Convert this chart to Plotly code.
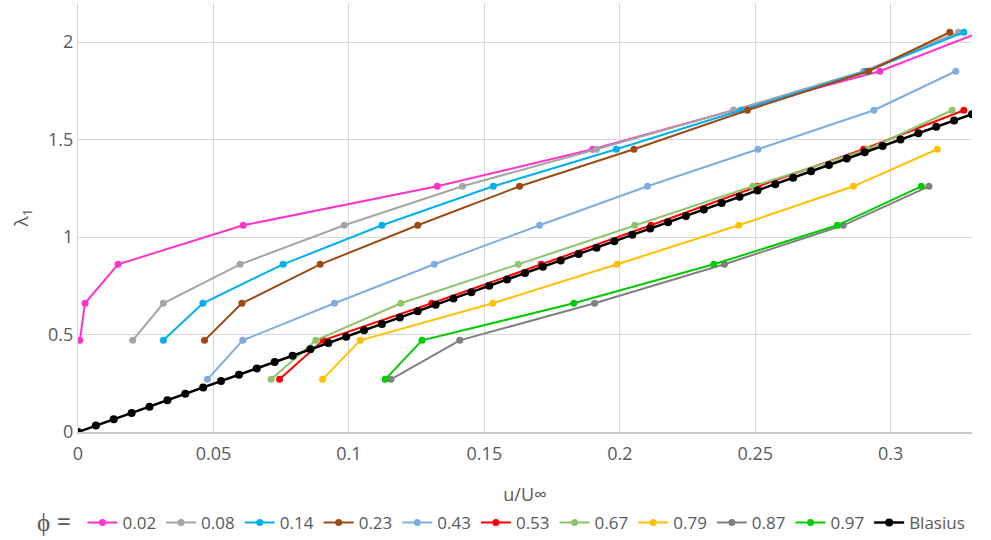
import plotly.graph_objects as go

# ---- data ----
names = ["0.02", "0.08", "0.14", "0.23", "0.43", "0.53", "0.67", "0.79", "0.87", "0.97", "Blasius"]
colors = ["#FF33CC", "#A5A5A5", "#00B0F0", "#9E4A13", "#7EAEE0", "#FF0000",
          "#8FC46A", "#FFC000", "#808080", "#00CC00", "#000000"]

x_002 = [0.0007, 0.0026, 0.0148, 0.0610, 0.1326, 0.1900, 0.2420, 0.2960, 0.3330]
y_002 = [0.47, 0.66, 0.86, 1.06, 1.26, 1.45, 1.65, 1.85, 2.05]

x_008 = [0.0202, 0.0315, 0.0598, 0.0983, 0.1419, 0.1914, 0.2420, 0.2900, 0.3250]
y_008 = [0.47, 0.66, 0.86, 1.06, 1.26, 1.45, 1.65, 1.85, 2.05]

x_014 = [0.0315, 0.0461, 0.0757, 0.1122, 0.1533, 0.1987, 0.2448, 0.2910, 0.3270]
y_014 = [0.47, 0.66, 0.86, 1.06, 1.26, 1.45, 1.65, 1.85, 2.05]

x_023 = [0.0467, 0.0605, 0.0894, 0.1254, 0.1630, 0.2052, 0.2471, 0.2918, 0.3218]
y_023 = [0.47, 0.66, 0.86, 1.06, 1.26, 1.45, 1.65, 1.85, 2.05]

x_043 = [0.0478, 0.0608, 0.0947, 0.1315, 0.1704, 0.2102, 0.2510, 0.2938, 0.3240]
y_043 = [0.27, 0.47, 0.66, 0.86, 1.06, 1.26, 1.45, 1.65, 1.85]

x_053 = [0.0744, 0.0905, 0.1306, 0.1710, 0.2115, 0.2510, 0.2900, 0.3270]
y_053 = [0.27, 0.47, 0.66, 0.86, 1.06, 1.26, 1.45, 1.65]

x_067 = [0.0713, 0.0878, 0.1192, 0.1625, 0.2055, 0.2491, 0.2916, 0.3227]
y_067 = [0.27, 0.47, 0.66, 0.86, 1.06, 1.26, 1.45, 1.65]

x_079 = [0.0903, 0.1042, 0.1531, 0.1990, 0.2439, 0.2862, 0.3172]
y_079 = [0.27, 0.47, 0.66, 0.86, 1.06, 1.26, 1.45]

x_087 = [0.1155, 0.1409, 0.1907, 0.2386, 0.2825, 0.3141]
y_087 = [0.27, 0.47, 0.66, 0.86, 1.06, 1.26]

x_097 = [0.1134, 0.1270, 0.1830, 0.2347, 0.2803, 0.3113]
y_097 = [0.27, 0.47, 0.66, 0.86, 1.06, 1.26]

x_blasius = [0, 0.0066, 0.0132, 0.0198, 0.0264, 0.0330, 0.0396, 0.0462, 0.0528, 0.0594,
             0.0660, 0.0726, 0.0792, 0.0858, 0.0924, 0.0990, 0.1056, 0.1122, 0.1188, 0.1254,
             0.1320, 0.1386, 0.1452, 0.1518, 0.1584, 0.1650, 0.1716, 0.1782, 0.1848, 0.1914,
             0.1980, 0.2046, 0.2112, 0.2178, 0.2244, 0.2310, 0.2376, 0.2442, 0.2508, 0.2574,
             0.2640, 0.2706, 0.2772, 0.2838, 0.2904, 0.2970, 0.3036, 0.3102, 0.3168, 0.3234,
             0.3300]
y_blasius = [0, 0.033, 0.065, 0.098, 0.130, 0.163, 0.196, 0.228, 0.261, 0.293,
             0.326, 0.359, 0.391, 0.424, 0.456, 0.489, 0.522, 0.554, 0.587, 0.619,
             0.652, 0.685, 0.717, 0.750, 0.782, 0.815, 0.848, 0.880, 0.913, 0.945,
             0.978, 1.011, 1.043, 1.076, 1.108, 1.141, 1.174, 1.206, 1.239, 1.271,
             1.304, 1.337, 1.369, 1.402, 1.434, 1.467, 1.500, 1.532, 1.565, 1.597,
             1.630]

xs = [x_002, x_008, x_014, x_023, x_043, x_053, x_067, x_079, x_087, x_097, x_blasius]
ys = [y_002, y_008, y_014, y_023, y_043, y_053, y_067, y_079, y_087, y_097, y_blasius]

x_ticks = [0, 0.05, 0.1, 0.15, 0.2, 0.25, 0.3]
y_ticks = [0, 0.5, 1, 1.5, 2]

FONT = "Open Sans"
TXT = "#595959"

fig = go.Figure()
for name, c, x, y in zip(names, colors, xs, ys):
    fig.add_trace(go.Scatter(
        x=x, y=y, name=name, mode="lines+markers",
        line=dict(color=c, width=2.5 if name == "Blasius" else 2),
        marker=dict(color=c, size=8 if name == "Blasius" else 7),
    ))

fig.update_layout(
    width=991, height=540,
    margin=dict(l=78, r=19, t=3, b=108, autoexpand=False),
    paper_bgcolor="white", plot_bgcolor="white",
    font=dict(family=FONT, size=17, color=TXT),
    xaxis=dict(range=[0, 0.33], tickvals=x_ticks, ticktext=[str(v) for v in x_ticks],
               showgrid=True, gridcolor="#D9D9D9", gridwidth=1,
               zeroline=False, showline=True, linecolor="#C8C8C8", linewidth=1.5,
               ticks="", tickfont=dict(size=18, color=TXT), ticklabelstandoff=5,
               title=dict(text="u/U\u221e", font=dict(size=18, color=TXT), standoff=24)),
    yaxis=dict(range=[0, 2.2], tickvals=y_ticks, ticktext=[str(v) for v in y_ticks],
               showgrid=True, gridcolor="#D9D9D9", gridwidth=1,
               zeroline=False, showline=True, linecolor="#D9D9D9", linewidth=1,
               ticks="", tickfont=dict(size=18, color=TXT),
               title=dict(text="\u03bb<sub>1</sub>", font=dict(size=19, color=TXT), standoff=14)),
    showlegend=True,
    legend=dict(orientation="h", x=0.005, xanchor="left", y=-0.212, yanchor="middle",
                font=dict(size=17, color=TXT), itemwidth=30, tracegroupgap=0,
                bgcolor="rgba(0,0,0,0)"),
    annotations=[dict(text="\u03d5 =", x=(35 - 78) / (991 - 78 - 19), y=(432 - 521) / (432 - 3),
                      xref="paper", yref="paper",
                      showarrow=False, font=dict(size=25, color=TXT, family=FONT),
                      xanchor="left", yanchor="middle")],
)

fig.write_html("out.html")
